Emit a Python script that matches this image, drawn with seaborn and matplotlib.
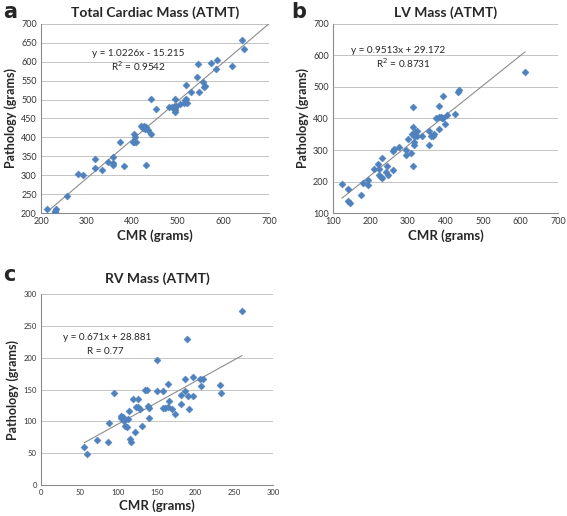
#!/usr/bin/env python3
"""
CMR vs pathology mass agreement (ATMT) - three scatter panels with trendlines
"""

import numpy as np
import pandas as pd
import matplotlib
matplotlib.use("Agg")
import matplotlib.pyplot as plt
import seaborn as sns

# Panel a: total cardiac mass
total_cmr = [214, 231, 234, 231, 258, 282, 293, 318, 318, 333, 347, 357, 357, 358,
             373, 383, 401, 404, 408, 404, 407, 420, 425, 430, 423, 435, 428, 441,
             441, 453, 431, 480, 487, 492, 495, 495, 494, 497, 493, 504, 513, 515,
             518, 520, 519, 530, 547, 555, 557, 559, 542, 545, 572, 585, 584, 620,
             640, 645]
total_path = [211, 205, 210, 203, 244, 303, 300, 344, 320, 313, 334, 327, 331, 349,
              389, 324, 388, 388, 388, 408, 402, 430, 430, 427, 424, 419, 421, 408,
              502, 476, 326, 481, 481, 481, 479, 472, 467, 483, 502, 488, 490, 500,
              502, 490, 538, 519, 519, 547, 533, 535, 561, 594, 596, 606, 581, 589,
              658, 635]

# Panel b: LV mass
lv_cmr = [124, 141, 141, 145, 174, 179, 193, 193, 210, 219, 222, 224, 228, 231,
          231, 245, 242, 248, 260, 262, 260, 275, 295, 295, 307, 301, 313, 313,
          312, 317, 319, 325, 323, 316, 315, 313, 337, 357, 357, 362, 367, 370,
          374, 382, 382, 382, 393, 387, 390, 393, 399, 405, 425, 434, 437, 612]
lv_path = [191, 175, 138, 131, 158, 194, 206, 188, 240, 254, 241, 220, 214, 210,
           274, 250, 229, 221, 298, 304, 237, 311, 301, 284, 291, 335, 437, 372,
           352, 346, 357, 359, 346, 325, 315, 249, 345, 315, 359, 345, 343, 351,
           403, 406, 441, 368, 470, 404, 402, 403, 383, 412, 414, 485, 489, 549]

# Panel c: RV mass
rv_cmr = [56, 59, 72, 87, 88, 94, 103, 104, 106, 107, 109, 111, 114, 113, 115,
          116, 119, 126, 123, 126, 128, 122, 131, 135, 137, 138, 140, 140, 150,
          150, 158, 158, 161, 164, 165, 164, 170, 173, 181, 181, 186, 186, 190,
          192, 189, 196, 196, 206, 207, 210, 231, 233, 260]
rv_path = [60, 48, 70, 67, 97, 145, 105, 109, 107, 101, 93, 91, 116, 103, 73, 67,
           135, 135, 123, 122, 120, 84, 92, 149, 149, 124, 121, 105, 196, 148,
           148, 121, 121, 123, 132, 159, 119, 112, 128, 142, 166, 147, 140, 119,
           229, 169, 140, 167, 156, 167, 157, 144, 273]

# Trendline coefficients as printed on the chart
fits = {
    "a": (1.0226, -15.215),
    "b": (0.9513, 29.172),
    "c": (0.671, 28.881),
}

BLUE = "#4F81BD"
FONT = ["Lato", "DejaVu Sans"]


def style_axis(ax, xlim, ylim, xticks, yticks, tick_size):
    ax.set_xlim(*xlim)
    ax.set_ylim(*ylim)
    ax.set_xticks(xticks)
    ax.set_yticks(yticks)
    ax.grid(axis="y", color="#C4C4C4", linewidth=0.7)
    ax.grid(axis="x", visible=False)
    ax.set_axisbelow(True)
    for side in ["top", "right"]:
        ax.spines[side].set_visible(False)
    for side in ["left", "bottom"]:
        ax.spines[side].set_color("#8C8C8C")
        ax.spines[side].set_linewidth(0.8)
    ax.tick_params(axis="both", length=0, labelsize=tick_size, pad=3, colors="#333333")
    ax.set_xlabel("CMR (grams)", fontsize=9.5, fontweight="bold", labelpad=2)
    ax.set_ylabel("Pathology (grams)", fontsize=9, fontweight="bold", labelpad=3)


def panel(ax, x, y, key, x_end=None):
    df = pd.DataFrame({"cmr": x, "path": y})
    sns.scatterplot(data=df, x="cmr", y="path", ax=ax, marker="D", s=13,
                    color=BLUE, edgecolor=BLUE, linewidth=0.3, zorder=3)
    slope, icpt = fits[key]
    x0 = df["cmr"].min()
    x1 = df["cmr"].max() if x_end is None else x_end
    xs = np.array([x0, x1])
    ax.plot(xs, slope * xs + icpt, color="#8C8C8C", linewidth=0.8, zorder=2)


sns.set_style("white")
plt.rcParams["font.family"] = FONT

fig = plt.figure(figsize=(5.67, 5.16), dpi=100)

# a
ax_a = fig.add_axes([0.0723, 0.5872, 0.402, 0.3663])
panel(ax_a, total_cmr, total_path, "a", x_end=700)
style_axis(ax_a, (200, 700), (200, 700), range(200, 701, 100), range(200, 701, 50), 6.5)
ax_a.set_title("Total Cardiac Mass (ATMT)", fontsize=10, fontweight="bold", pad=5)
ax_a.text(413, 623, "y = 1.0226x - 15.215", ha="center", va="center", fontsize=7.2)
ax_a.text(413, 588, "R$^2$ = 0.9542", ha="center", va="center", fontsize=7.2)

# b
ax_b = fig.add_axes([0.5873, 0.5872, 0.3968, 0.3663])
panel(ax_b, lv_cmr, lv_path, "b")
style_axis(ax_b, (100, 700), (100, 700), range(100, 701, 100), range(100, 701, 100), 6.5)
ax_b.set_title("LV Mass (ATMT)", fontsize=10, fontweight="bold", pad=5)
ax_b.text(273, 617, "y = 0.9513x + 29.172", ha="center", va="center", fontsize=7.2)
ax_b.text(287, 575, "R$^2$ = 0.8731", ha="center", va="center", fontsize=7.2)

# c
ax_c = fig.add_axes([0.0723, 0.0601, 0.409, 0.370])
panel(ax_c, rv_cmr, rv_path, "c")
style_axis(ax_c, (0, 300), (0, 300), range(0, 301, 50), range(0, 301, 50), 5.5)
ax_c.set_title("RV Mass (ATMT)", fontsize=10, fontweight="bold", pad=8)
ax_c.text(85, 232, "y = 0.671x + 28.881", ha="center", va="center", fontsize=7.2)
ax_c.text(83, 210, "R = 0.77", ha="center", va="center", fontsize=7.2)

# panel letters
fig.text(0.006, 0.965, "a", fontsize=15, fontweight="bold", va="baseline", family=["DejaVu Sans"])
fig.text(0.513, 0.965, "b", fontsize=15, fontweight="bold", va="baseline", family=["DejaVu Sans"])
fig.text(0.006, 0.455, "c", fontsize=15, fontweight="bold", va="baseline", family=["DejaVu Sans"])

fig.savefig("out.png", dpi=100)
plt.close(fig)
